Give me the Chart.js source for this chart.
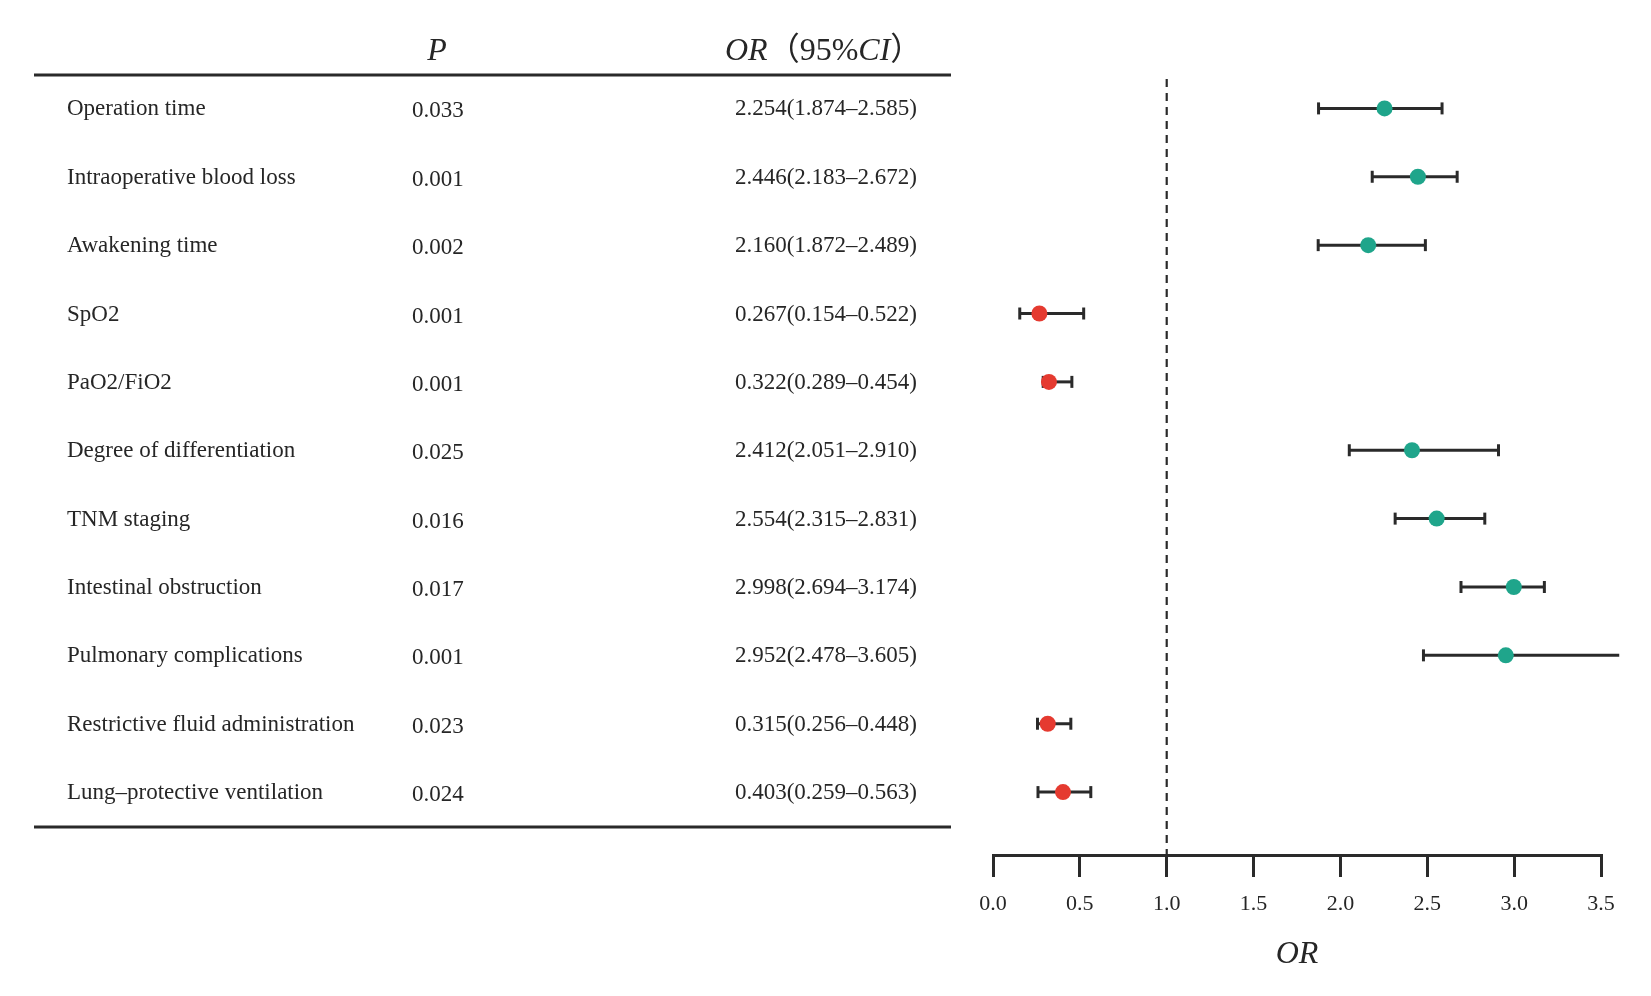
<!DOCTYPE html>
<html>
<head>
<meta charset="utf-8">
<script src="https://cdn.jsdelivr.net/npm/chart.js@4.4.1/dist/chart.umd.min.js"></script>
<style>
html,body{margin:0;padding:0;background:#fff;}
#wrap{width:1651px;height:996px;position:relative;}
</style>
</head>
<body>
<div id="wrap"><canvas id="c"></canvas></div>
<script>
const categories = ["Operation time","Intraoperative blood loss","Awakening time","SpO2","PaO2/FiO2","Degree of differentiation","TNM staging","Intestinal obstruction","Pulmonary complications","Restrictive fluid administration","Lung\u2013protective ventilation"];
const pValues = ["0.033","0.001","0.002","0.001","0.001","0.025","0.016","0.017","0.001","0.023","0.024"];
const orValues = [2.254,2.446,2.160,0.267,0.322,2.412,2.554,2.998,2.952,0.315,0.403];
const ciLower = [1.874,2.183,1.872,0.154,0.289,2.051,2.315,2.694,2.478,0.256,0.259];
const ciUpper = [2.585,2.672,2.489,0.522,0.454,2.910,2.831,3.174,3.605,0.448,0.563];
const xTicks = [0,0.5,1.0,1.5,2.0,2.5,3.0,3.5];
const refLine = 1.0;

const TEAL = '#1fa58b', RED = '#e53a30', DARK = '#2a2a2a', TEXT = '#262626';
const SERIF = '"Liberation Serif","Times New Roman",serif';
const CJK = '"Liberation Serif","Noto Sans CJK SC",serif';

const datasets = [];
datasets.push({
  type:'scatter', label:'OR', order:0, clip:false,
  data: orValues.map((v,i)=>({x:v,y:i})),
  pointRadius:8, pointHoverRadius:8, borderWidth:0,
  backgroundColor: orValues.map(v=> v<refLine ? RED : TEAL)
});
categories.forEach((c,i)=>{
  datasets.push({
    type:'line', label:c, order:1, clip:false,
    data:[{x:ciLower[i],y:i},{x:ciUpper[i],y:i}],
    borderColor:DARK, borderWidth:3,
    pointStyle:'line', pointRotation:90, pointRadius:6, pointHoverRadius:6,
    pointBorderColor:DARK, pointBorderWidth:3, fill:false
  });
});
datasets.push({
  type:'line', label:'ref', order:2, clip:false,
  data:[{x:refLine,y:-0.43},{x:refLine,y:10.92}],
  borderColor:DARK, borderWidth:2.2, borderDash:[8,6], pointRadius:0, fill:false
});

const tablePlugin = {
  id:'table',
  afterDraw(chart){
    const ctx = chart.ctx, y = chart.scales.y;
    ctx.save();
    // header
    ctx.fillStyle = TEXT;
    ctx.textBaseline = 'alphabetic';
    ctx.font = 'italic 32px ' + SERIF;
    ctx.textAlign = 'center';
    ctx.fillText('P', 437, 60);
    ctx.textAlign = 'left';
    let hx = 725;
    const segs = [['OR','italic 32px '+SERIF],['\uFF08','32px '+CJK],['95%','32px '+SERIF],['CI','italic 32px '+SERIF],['\uFF09','32px '+CJK]];
    segs.forEach(s=>{ ctx.font = s[1]; ctx.fillText(s[0], hx, 60); hx += ctx.measureText(s[0]).width; });
    // lines
    ctx.strokeStyle = DARK; ctx.lineWidth = 3;
    ctx.beginPath(); ctx.moveTo(34,75); ctx.lineTo(951,75); ctx.stroke();
    ctx.beginPath(); ctx.moveTo(34,827); ctx.lineTo(951,827); ctx.stroke();
    // rows
    ctx.font = '23px ' + SERIF;
    ctx.textBaseline = 'middle';
    categories.forEach((c,i)=>{
      const py = y.getPixelForValue(i);
      ctx.textAlign = 'left';
      ctx.fillText(c, 67, py + 1);
      ctx.fillText(pValues[i], 412, py + 3);
      ctx.textAlign = 'right';
      ctx.fillText(orValues[i].toFixed(3) + '(' + ciLower[i].toFixed(3) + '\u2013' + ciUpper[i].toFixed(3) + ')', 917, py + 1);
    });
    ctx.restore();
  }
};

new Chart(document.getElementById('c'), {
  data:{datasets},
  options:{
    responsive:true, maintainAspectRatio:false, devicePixelRatio:1,
    animation:false, events:[],
    layout:{padding:{left:993,right:50,top:79,bottom:0}},
    plugins:{legend:{display:false}, tooltip:{enabled:false}},
    scales:{
      x:{
        type:'linear', min:0, max:3.5,
        afterBuildTicks(s){ s.ticks = xTicks.map(v=>({value:v})); },
        afterFit(s){ s.height = 141; },
        border:{display:true, color:DARK, width:3},
        grid:{display:true, drawOnChartArea:false, drawTicks:true, tickLength:22, color:DARK, lineWidth:3},
        ticks:{color:TEXT, font:{family:SERIF, size:22}, padding:14, maxRotation:0, callback:v=>Number(v).toFixed(1)},
        title:{display:true, text:'OR', color:TEXT, font:{family:SERIF, size:32, style:'italic'}, padding:{top:22,bottom:22}}
      },
      y:{type:'linear', display:false, reverse:true, min:-0.43, max:10.92}
    }
  },
  plugins:[tablePlugin]
});
</script>
</body>
</html>
